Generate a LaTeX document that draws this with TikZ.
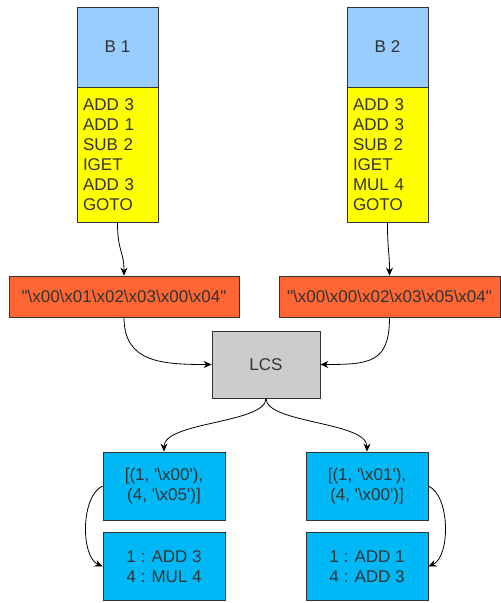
\documentclass[tikz,border=0pt]{standalone}
\usepackage{fontspec}
\setmainfont{Liberation Sans}[Ligatures=TeXOff]
\usetikzlibrary{arrows.meta}
\definecolor{hdrblue}{HTML}{99CCFF}
\definecolor{codeyellow}{HTML}{FFFF00}
\definecolor{strorange}{HTML}{FF6633}
\definecolor{lcsgray}{HTML}{CCCCCC}
\definecolor{resblue}{HTML}{00B8F5}
\definecolor{txtgray}{HTML}{333333}
\newcommand{\bsl}{\textbackslash}

\begin{document}
\begin{tikzpicture}[x=1pt,y=-1pt,
  box/.style={draw=txtgray, line width=0.8pt, inner sep=0pt, text=txtgray, font=\fontsize{17}{20}\selectfont},
  codebox/.style={box, fill=codeyellow, minimum width=81, minimum height=135, text width=69, inner xsep=6, align=left},
  resbox/.style={box, fill=resblue, minimum width=122, minimum height=68, align=center},
  link/.style={black, line width=0.8pt, -{Stealth[length=8pt, width=7pt]}}]
\useasboundingbox (0,0) rectangle (501,603);
% the two blocks
\node[box, fill=hdrblue, minimum width=81, minimum height=80] (hdr1) at (117.5,47) {B 1};
\node[codebox] (code1) at (117.5,154.5) {ADD 3\\ADD 1\\SUB 2\\IGET\\ADD 3\\GOTO};
\node[box, fill=hdrblue, minimum width=81, minimum height=80] (hdr2) at (387.5,47) {B 2};
\node[codebox] (code2) at (387.5,154.5) {ADD 3\\ADD 3\\SUB 2\\IGET\\MUL 4\\GOTO};
% byte strings
\node[box, fill=strorange, minimum width=230, minimum height=41] (str1) at (124,296.5)
  {"\bsl x00\bsl x01\bsl x02\bsl x03\bsl x00\bsl x04"};
\node[box, fill=strorange, minimum width=221, minimum height=41] (str2) at (389.5,296.5)
  {"\bsl x00\bsl x00\bsl x02\bsl x03\bsl x05\bsl x04"};
\node[box, fill=lcsgray, minimum width=108, minimum height=67] (lcs) at (266,364.5) {LCS};
% results
\node[resbox] (res1) at (164,486) {[(1, '\bsl x00'),\\ (4, '\bsl x05')]};
\node[resbox] (idx1) at (164,566.5) {1 : ADD 3\\4 : MUL 4};
\node[resbox] (res2) at (367,486) {[(1, '\bsl x01'),\\ (4, '\bsl x00')]};
\node[resbox] (idx2) at (367,566.5) {1 : ADD 1\\4 : ADD 3};

\draw[link] (code1.south) .. controls +(0,30) and +(0,-25) .. (str1.north);
\draw[link] (code2.south) .. controls +(0,30) and +(0,-25) .. (str2.north);
\draw[link] (str1.south) .. controls +(0,45) and +(-50,0) .. (lcs.west);
\draw[link] (str2.south) .. controls +(0,45) and +(50,0) .. (lcs.east);
\draw[link] (lcs.south) .. controls +(0,25) and +(0,-30) .. (res1.north);
\draw[link] (lcs.south) .. controls +(0,25) and +(0,-30) .. (res2.north);
\draw[link] (res1.west) .. controls +(-22,10) and +(-22,-10) .. (idx1.west);
\draw[link] (res2.east) .. controls +(22,10) and +(22,-10) .. (idx2.east);
\end{tikzpicture}
\end{document}
